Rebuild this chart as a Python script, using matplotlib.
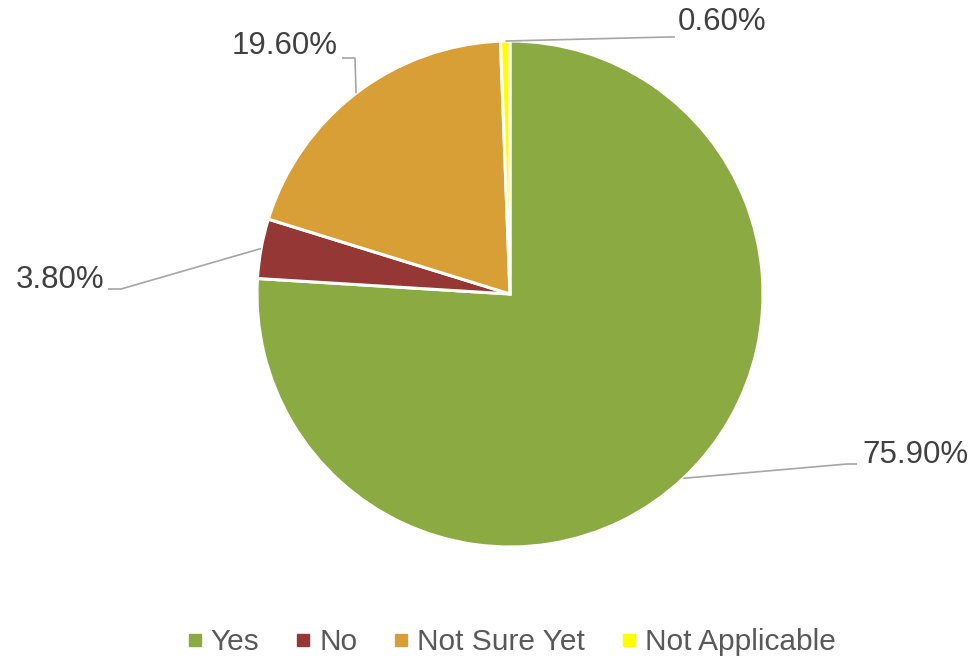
import numpy as np
import matplotlib
matplotlib.use("Agg")
import matplotlib.pyplot as plt
from matplotlib.lines import Line2D

categories = ["Yes", "No", "Not Sure Yet", "Not Applicable"]
values = [75.9, 3.8, 19.6, 0.6]
labels = ["75.90%", "3.80%", "19.60%", "0.60%"]
colors = ["#8BAA42", "#953735", "#D99F37", "#FFFF00"]

plt.rcParams["font.family"] = ["Liberation Sans", "DejaVu Sans"]

W, H = 974, 662
fig = plt.figure(figsize=(W / 100, H / 100), dpi=100)
ax = fig.add_axes([0, 0, 1, 1])

cx, cy, r = 510, H - 294, 253
wedges, _ = ax.pie(values, colors=colors, startangle=90, counterclock=False,
                   center=(cx, cy), radius=r, frame=True,
                   wedgeprops=dict(edgecolor="white", linewidth=2.2))
ax.set_xlim(0, W)
ax.set_ylim(0, H)
ax.set_aspect("equal")
ax.axis("off")

# label layout: (text x, text y, ha, elbow x, elbow y, end x)
layout = [
    (862, H - 455, "left", 847, H - 464, 857),
    (104, H - 280, "right", 121, H - 289, 108),
    (338, H - 46, "right", 355, H - 58, 342),
    (678, H - 22, "left", 668, H - 37, 675),
]
lc = "#A6A6A6"
for w, lab, (tx, ty, ha, ex, ey, endx) in zip(wedges, labels, layout):
    ang = np.deg2rad((w.theta1 + w.theta2) / 2)
    sx = cx + r * np.cos(ang)
    sy = cy + r * np.sin(ang)
    ax.plot([sx, ex, endx], [sy, ey, ey], color=lc, lw=1.2, solid_capstyle="butt")
    ax.text(tx, ty, lab, ha=ha, va="center", fontsize=22.5, color="#404040")

handles = [Line2D([0], [0], marker="s", linestyle="none", markersize=8.5,
                  markerfacecolor=c, markeredgecolor=c) for c in colors]
fig.legend(handles, categories, loc="center", ncol=4, frameon=False,
           bbox_to_anchor=(511.5 / W, 1 - 642 / H), fontsize=21.5, labelcolor="#595959",
           handlelength=0.5, handletextpad=0.28, columnspacing=1.22,
           borderpad=0)

fig.savefig("out.png", dpi=100)
